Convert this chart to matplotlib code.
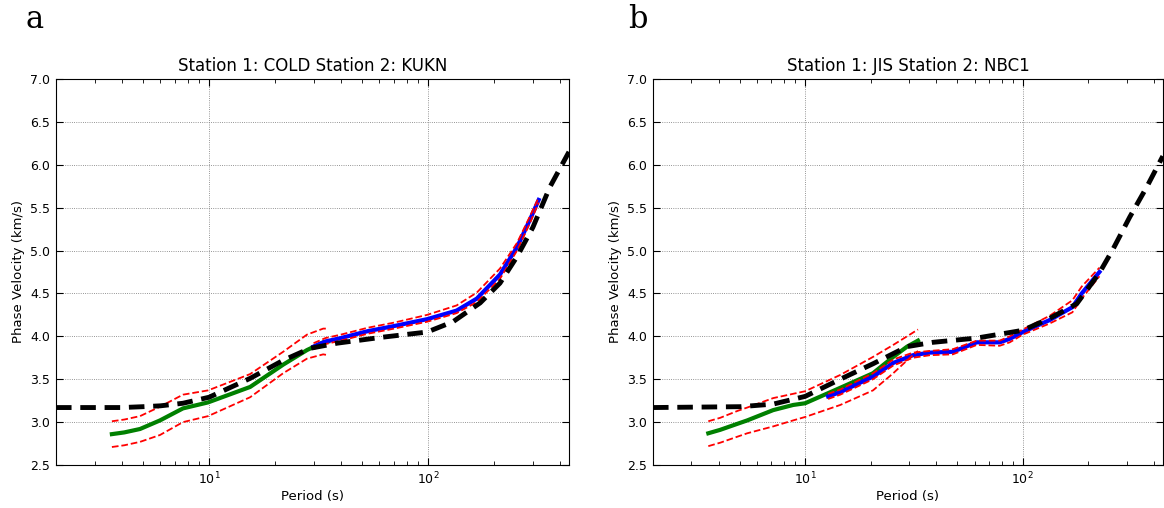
import numpy as np
import matplotlib.pyplot as plt

plt.rc('font', family='DejaVu Sans', size=9)

# ---------- panel a: COLD - KUKN ----------
a_ref_T = [2, 3, 4, 5, 6, 7.6, 10, 15.4, 21.8, 28.9, 38.4, 62, 99, 130, 173, 213, 255, 301, 360, 440]
a_ref_v = [3.17, 3.17, 3.17, 3.18, 3.19, 3.22, 3.29, 3.51, 3.72, 3.86, 3.92, 3.99, 4.05, 4.17, 4.39, 4.62, 4.93, 5.27, 5.74, 6.15]

a_green_T = [3.6, 4.1, 4.84, 5.97, 7.6, 9.9, 15.4, 21.8, 28.0, 33.2, 35]
a_green_v = [2.86, 2.88, 2.92, 3.02, 3.16, 3.23, 3.41, 3.67, 3.84, 3.93, 3.94]
a_gup_v = [3.01, 3.03, 3.07, 3.18, 3.32, 3.37, 3.56, 3.82, 4.02, 4.09, 4.09]
a_glo_v = [2.71, 2.73, 2.77, 2.85, 3.00, 3.07, 3.29, 3.57, 3.74, 3.79, 3.78]

a_blue_T = [30, 34, 40, 53, 70, 99, 135, 167, 213, 255, 292, 320]
a_blue_v = [3.88, 3.94, 3.98, 4.06, 4.12, 4.20, 4.30, 4.44, 4.72, 5.04, 5.36, 5.59]
a_bup_v = [3.92, 3.98, 4.02, 4.10, 4.16, 4.25, 4.36, 4.51, 4.79, 5.09, 5.40, 5.62]
a_blo_v = [3.85, 3.91, 3.95, 4.03, 4.09, 4.17, 4.27, 4.40, 4.67, 5.00, 5.32, 5.56]

# ---------- panel b: JIS - NBC1 ----------
b_ref_T = [2, 5.04, 7.13, 10, 14.5, 20.5, 29.4, 38.6, 61.5, 100, 133, 177, 225, 259, 310, 371, 440]
b_ref_v = [3.17, 3.18, 3.21, 3.30, 3.50, 3.68, 3.88, 3.93, 3.98, 4.07, 4.21, 4.38, 4.74, 5.01, 5.39, 5.74, 6.10]

b_green_T = [3.59, 4.07, 4.88, 5.42, 7.13, 8.81, 10, 14.5, 20.5, 25.4, 29.4, 33.0]
b_green_v = [2.87, 2.91, 2.98, 3.02, 3.14, 3.20, 3.22, 3.40, 3.57, 3.76, 3.88, 3.95]
b_gup_v = [3.01, 3.05, 3.13, 3.17, 3.28, 3.33, 3.36, 3.55, 3.76, 3.90, 4.00, 4.08]
b_glo_v = [2.72, 2.76, 2.83, 2.87, 2.95, 3.02, 3.06, 3.20, 3.37, 3.57, 3.72, 3.83]

b_blue_T = [12.75, 14.5, 20.5, 25.4, 31.3, 37.4, 47.7, 61.5, 78.3, 87.1, 100, 133, 169, 186.5, 225]
b_blue_v = [3.30, 3.35, 3.53, 3.69, 3.78, 3.81, 3.82, 3.93, 3.93, 3.97, 4.05, 4.19, 4.34, 4.50, 4.75]
b_bup_v = [3.33, 3.38, 3.57, 3.73, 3.81, 3.83, 3.85, 3.95, 3.95, 4.00, 4.08, 4.24, 4.42, 4.58, 4.80]
b_blo_v = [3.27, 3.32, 3.50, 3.66, 3.75, 3.78, 3.79, 3.90, 3.89, 3.93, 4.02, 4.15, 4.28, 4.44, 4.70]

titles = ['Station 1: COLD Station 2: KUKN', 'Station 1: JIS Station 2: NBC1']
letters = ['a', 'b']

fig = plt.figure(figsize=(11.64, 5.08), dpi=100, facecolor='white')
ax1 = fig.add_axes([0.0481, 0.0846, 0.4407, 0.760])
ax2 = fig.add_axes([0.561, 0.0846, 0.438, 0.760])

panels = [
    (ax1, a_ref_T, a_ref_v, a_green_T, a_green_v, a_gup_v, a_glo_v,
     a_blue_T, a_blue_v, a_bup_v, a_blo_v),
    (ax2, b_ref_T, b_ref_v, b_green_T, b_green_v, b_gup_v, b_glo_v,
     b_blue_T, b_blue_v, b_bup_v, b_blo_v),
]

for i, (ax, rT, rv, gT, gv, gu, gl, bT, bv, bu, bl) in enumerate(panels):
    ax.semilogx(gT, gv, color='green', lw=3, zorder=3)
    ax.semilogx(bT, bv, color='blue', lw=3, zorder=3)
    ax.semilogx(gT, gu, 'r--', lw=1.3, zorder=4)
    ax.semilogx(gT, gl, 'r--', lw=1.3, zorder=4)
    ax.semilogx(bT, bu, 'r--', lw=1.3, zorder=4)
    ax.semilogx(bT, bl, 'r--', lw=1.3, zorder=4)
    ax.semilogx(rT, rv, 'k--', lw=3.5, dashes=(3.2, 1.8), zorder=5)

    ax.set_xlim(2, 440)
    ax.set_ylim(2.5, 7.0)
    ax.set_yticks(np.arange(2.5, 7.01, 0.5))
    ax.set_yticklabels(['%.1f' % t for t in np.arange(2.5, 7.01, 0.5)])
    ax.grid(True, which='major', color='0.45', linestyle=':', lw=0.6)
    ax.tick_params(which='both', direction='in', top=True, right=True)
    ax.tick_params(which='major', length=5, pad=4)
    ax.tick_params(which='minor', length=3)
    ax.set_xlabel('Period (s)', fontsize=9.5, labelpad=2)
    ax.set_ylabel('Phase Velocity (km/s)', fontsize=9.5, labelpad=4)
    ax.set_title(titles[i], fontsize=12)

fig.text(0.022, 0.962, letters[0], family='DejaVu Serif', fontsize=22, va='center')
fig.text(0.54, 0.962, letters[1], family='DejaVu Serif', fontsize=22, va='center')

fig.savefig('out.png', dpi=100, facecolor='white')
